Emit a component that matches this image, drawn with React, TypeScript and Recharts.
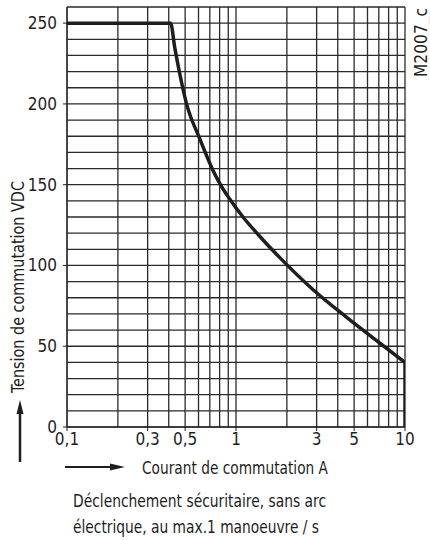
import React from 'react';
import { LineChart, Line, XAxis, YAxis, ReferenceLine } from 'recharts';

const currentA = [0.1, 0.41, 0.434, 0.464, 0.51, 0.61, 0.73, 0.82, 0.92, 1.1, 1.41, 1.81, 2.86, 4.5, 7.08, 10];
const voltageV = [250, 250, 235, 219, 200, 178.5, 159, 149, 141, 130, 117, 105, 85, 68, 52, 40];
const dropA = [10, 10];
const dropV = [40, 0];

const xTicks = [0.1, 0.3, 0.5, 1, 3, 5, 10];
const xGrid = [0.1, 0.2, 0.3, 0.4, 0.5, 0.6, 0.7, 0.8, 0.9, 1, 2, 3, 4, 5, 6, 7, 8, 9, 10];
const yTicks = [0, 50, 100, 150, 200, 250];
const yGrid = [0, 10, 20, 30, 40, 50, 60, 70, 80, 90, 100, 110, 120, 130, 140, 150, 160, 170, 180, 190, 200, 210, 220, 230, 240, 250, 260];

const curveData = currentA.map((x, i) => ({ x, y: voltageV[i] }));
const dropData = dropA.map((x, i) => ({ x, y: dropV[i] }));

const FONT = "'Liberation Sans Narrow', 'DejaVu Sans Condensed', sans-serif";
const INK = '#1e1e1e';

export default function App() {
  return (
    <div style={{ position: 'absolute', left: 0, top: 0, width: 430, height: 540, background: '#fff', fontFamily: FONT }}>
      <LineChart width={430} height={540} margin={{ top: 7, right: 25, left: 0, bottom: 83 }}>
        <XAxis
          dataKey="x"
          type="number"
          scale="log"
          domain={[0.1, 10]}
          ticks={xTicks}
          allowDataOverflow
          tickFormatter={(v: number) => String(v).replace('.', ',')}
          height={30}
          tickSize={4}
          tickMargin={2}
          stroke={INK}
          tick={{ fill: INK, fontSize: 17, fontFamily: FONT }}
        />
        <YAxis
          type="number"
          dataKey="y"
          domain={[0, 260]}
          ticks={yTicks}
          width={67}
          tickSize={4}
          tickMargin={6}
          stroke={INK}
          tick={{ fill: INK, fontSize: 17, fontFamily: FONT }}
        />
        {yGrid.map((v) => (
          <ReferenceLine key={'h' + v} y={v} stroke="#2a2a2a" strokeWidth={1.3} ifOverflow="visible" />
        ))}
        {xGrid.map((v) => (
          <ReferenceLine key={'v' + v} x={v} stroke="#2a2a2a" strokeWidth={1.3} ifOverflow="visible" />
        ))}
        <Line
          data={curveData}
          type="monotone"
          dataKey="y"
          stroke={INK}
          strokeWidth={3.5}
          dot={false}
          isAnimationActive={false}
        />
        <Line
          data={dropData}
          type="linear"
          dataKey="y"
          stroke={INK}
          strokeWidth={3.5}
          dot={false}
          isAnimationActive={false}
        />
      </LineChart>
      <svg width={430} height={540} style={{ position: 'absolute', left: 0, top: 0, pointerEvents: 'none' }}>
        <text x={421} y={8} transform="rotate(-90 421 8)" textAnchor="end" dominantBaseline="central" fontSize={17} fill={INK} fontFamily={FONT} textLength={69} lengthAdjust="spacingAndGlyphs">M2007_c</text>
        <text x={18} y={287} transform="rotate(-90 18 287)" textAnchor="middle" dominantBaseline="central" fontSize={17} fill={INK} fontFamily={FONT} textLength={212} lengthAdjust="spacingAndGlyphs">Tension de commutation VDC</text>
        <line x1={20} y1={462} x2={20} y2={412} stroke={INK} strokeWidth={2.5} />
        <polygon points="20,400 16.5,414 23.5,414" fill={INK} />
        <line x1={65} y1={467} x2={112} y2={467} stroke={INK} strokeWidth={2} />
        <polygon points="125,467 110,463.5 110,470.5" fill={INK} />
        <text x={142} y={467} dominantBaseline="central" fontSize={18} fill={INK} fontFamily={FONT} textLength={186} lengthAdjust="spacingAndGlyphs">Courant de commutation A</text>
        <text x={73} y={500} dominantBaseline="central" fontSize={18} fill={INK} fontFamily={FONT} textLength={253} lengthAdjust="spacingAndGlyphs">Déclenchement sécuritaire, sans arc</text>
        <text x={73} y={526} dominantBaseline="central" fontSize={18} fill={INK} fontFamily={FONT} textLength={246} lengthAdjust="spacingAndGlyphs">électrique, au max.1 manoeuvre / s</text>
      </svg>
    </div>
  );
}
